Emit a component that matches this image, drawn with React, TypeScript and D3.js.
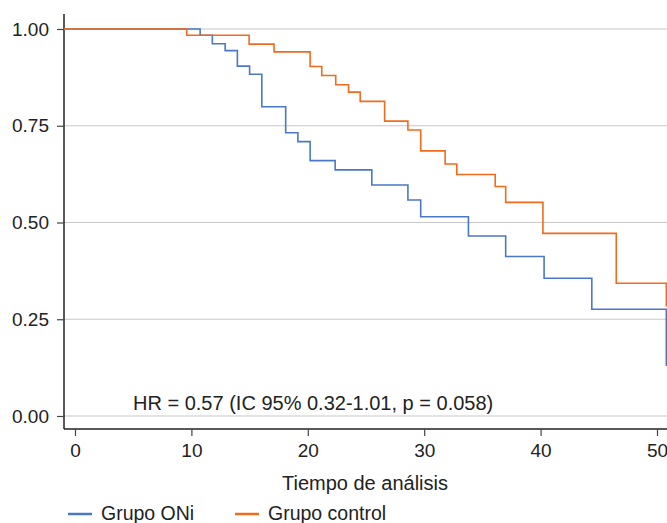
import { useEffect, useRef } from 'react';
import * as d3 from 'd3';

// Kaplan-Meier steps: event times and survival after each step
const oniTimes = [0, 10.75, 11.8, 12.9, 13.95, 15.0, 16.05, 18.1, 19.15, 20.2, 22.35, 25.5, 28.6, 29.7, 33.8, 37.0, 40.3, 44.4, 50.8];
const oniSurv = [1, 0.984, 0.962, 0.944, 0.904, 0.883, 0.799, 0.732, 0.709, 0.66, 0.636, 0.597, 0.558, 0.515, 0.465, 0.412, 0.356, 0.276, 0.129];
const ctrlTimes = [0, 9.6, 14.96, 17.1, 20.2, 21.2, 22.4, 23.5, 24.5, 26.6, 28.6, 29.7, 31.8, 32.8, 36.1, 37.0, 40.2, 46.5, 50.8];
const ctrlSurv = [1, 0.984, 0.961, 0.941, 0.903, 0.88, 0.856, 0.837, 0.813, 0.762, 0.739, 0.685, 0.651, 0.624, 0.593, 0.552, 0.472, 0.343, 0.283];
const xTicks = [0, 10, 20, 30, 40, 50];
const yTicks = [0, 0.25, 0.5, 0.75, 1];
const seriesNames = ['Grupo ONi', 'Grupo control'];
const COLORS = ['#4a78c8', '#f26a1b'];
const FONT = '"Liberation Sans", Arial, sans-serif';

export default function App() {
  const svgRef = useRef<SVGSVGElement>(null);

  useEffect(() => {
    const W = 667;
    const svg = d3.select(svgRef.current);
    svg.selectAll('*').remove();

    const x = d3.scaleLinear().domain([0, 50]).range([75, 657]);
    const y = d3.scaleLinear().domain([0, 1]).range([416, 29]);
    const axisX = 64, axisY = 429;

    // grid
    svg.append('g').selectAll('line').data(yTicks).join('line')
      .attr('x1', axisX).attr('x2', W)
      .attr('y1', d => y(d)).attr('y2', d => y(d))
      .attr('stroke', '#c8c8c8').attr('stroke-width', 1.2);

    // y axis
    const gy = svg.append('g').attr('transform', `translate(${axisX},0)`)
      .call(d3.axisLeft(y).tickValues(yTicks).tickFormat(d3.format('.2f')).tickSize(7).tickPadding(8));
    gy.select('.domain').attr('d', `M0,14V${axisY}`);
    styled(gy, 19);

    // x axis
    const gx = svg.append('g').attr('transform', `translate(0,${axisY})`)
      .call(d3.axisBottom(x).tickValues(xTicks).tickFormat(d3.format('d')).tickSize(7).tickPadding(8));
    gx.select('.domain').attr('d', `M${axisX},0H${W}`);
    styled(gx, 19);

    const line = d3.line<[number, number]>().x(d => x(d[0])).y(d => y(d[1])).curve(d3.curveStepAfter);
    const series = [
      oniTimes.map((t, i) => [t, oniSurv[i]] as [number, number]),
      ctrlTimes.map((t, i) => [t, ctrlSurv[i]] as [number, number]),
    ];
    // curves start at the y axis
    [0, 1].forEach(i => {
      svg.append('path').datum(series[i])
        .attr('fill', 'none').attr('stroke', COLORS[i]).attr('stroke-width', 1.6)
        .attr('d', `M${axisX},${y(series[i][0][1])}L` + (line(series[i]) as string).slice(1));
    });

    svg.append('text').attr('x', 133).attr('y', 410)
      .attr('font-family', FONT).attr('font-size', 20).attr('fill', '#222')
      .text('HR = 0.57 (IC 95% 0.32-1.01, p = 0.058)');

    svg.append('text').attr('x', 365).attr('y', 490).attr('text-anchor', 'middle')
      .attr('font-family', FONT).attr('font-size', 20).attr('fill', '#222')
      .text('Tiempo de análisis');

    const legendX = [68, 235];
    seriesNames.forEach((name, i) => {
      svg.append('line').attr('x1', legendX[i]).attr('x2', legendX[i] + 24)
        .attr('y1', 514).attr('y2', 514).attr('stroke', COLORS[i]).attr('stroke-width', 2.5);
      svg.append('text').attr('x', legendX[i] + 33).attr('y', 520)
        .attr('font-family', FONT).attr('font-size', 19.5).attr('fill', '#222')
        .text(name);
    });
  }, []);

  return (
    <div style={{ position: 'fixed', left: 0, top: 0 }}>
      <svg ref={svgRef} width={667} height={523} style={{ display: 'block', background: '#fff' }} />
    </div>
  );
}

function styled(g: d3.Selection<SVGGElement, unknown, null, undefined>, size: number) {
  g.select('.domain').attr('stroke', '#222').attr('stroke-width', 1.5);
  g.selectAll('.tick line').attr('stroke', '#444').attr('stroke-width', 1.2);
  g.selectAll('text').attr('fill', '#222').attr('font-size', size).attr('font-family', FONT);
}
